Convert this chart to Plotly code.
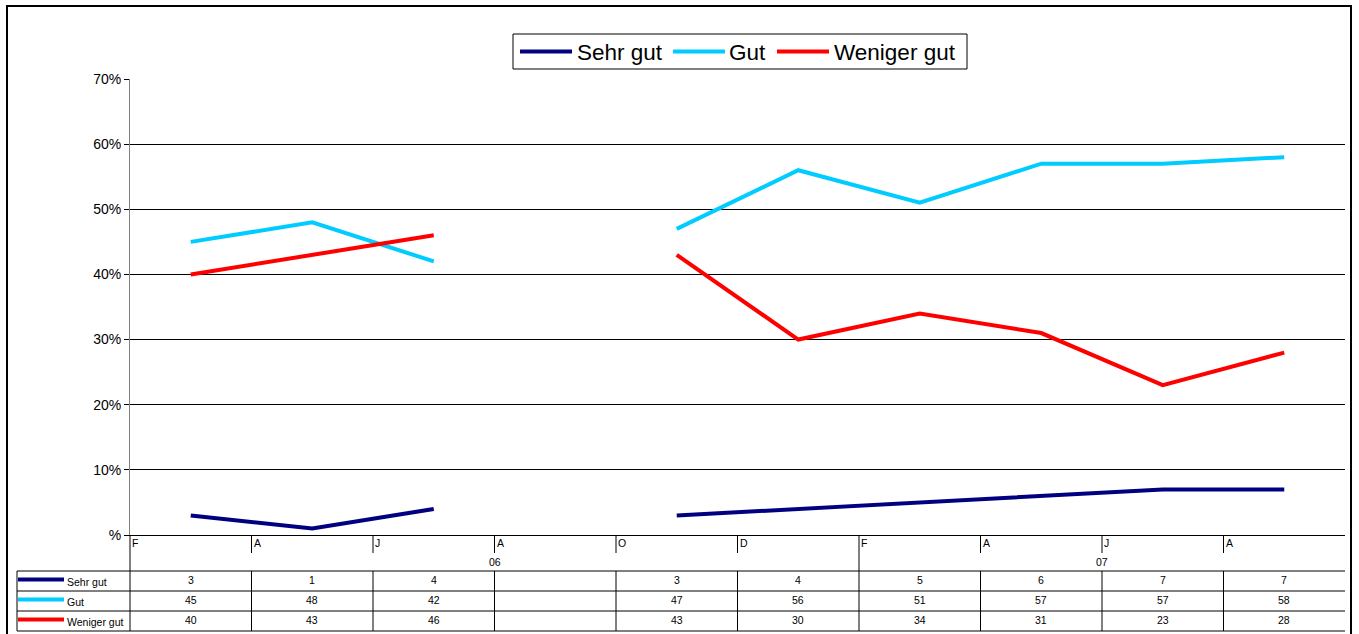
import plotly.graph_objects as go

months = ["F", "A", "J", "A", "O", "D", "F", "A", "J", "A"]
years = ["06", "07"]
year_spans = [(0, 5), (6, 9)]
series_names = ["Sehr gut", "Gut", "Weniger gut"]
sehr_gut = [3, 1, 4, None, 3, 4, 5, 6, 7, 7]
gut = [45, 48, 42, None, 47, 56, 51, 57, 57, 58]
weniger_gut = [40, 43, 46, None, 43, 30, 34, 31, 23, 28]
colors = ["#000080", "#00CCFF", "#FF0000"]
y_ticks = [0, 10, 20, 30, 40, 50, 60, 70]
y_ticktext = ["%", "10%", "20%", "30%", "40%", "50%", "60%", "70%"]

W, H = 1359, 634
L, R, T, B = 130, 1345, 79, 535
FONT = "Arial, Liberation Sans, sans-serif"

n = len(months)
xs = list(range(n))
series = [sehr_gut, gut, weniger_gut]

def px(x):
    return (x - L) / (R - L)

def py(y):
    return (B - y) / (B - T)

def cx(k):  # category boundary (left edge of category k) in paper coords
    return k / n

fig = go.Figure()
for name, vals, c in zip(series_names, series, colors):
    fig.add_trace(go.Scatter(x=xs, y=vals, mode="lines", name=name,
                             line=dict(color=c, width=4), connectgaps=False,
                             showlegend=False))

shapes = []
ann = []
def line(x0, y0, x1, y1, color="black", width=1):
    shapes.append(dict(type="line", xref="paper", yref="paper",
                       x0=x0, y0=y0, x1=x1, y1=y1,
                       line=dict(color=color, width=width)))

# outer frame
shapes.append(dict(type="rect", xref="paper", yref="paper",
                   x0=px(7), x1=px(1351), y0=py(645), y1=py(6),
                   line=dict(color="black", width=2)))

# legend box
shapes.append(dict(type="rect", xref="paper", yref="paper",
                   x0=px(513), x1=px(967), y0=py(69), y1=py(34),
                   line=dict(color="black", width=1), fillcolor="white"))
leg_pos = [(520, 575), (673, 727), (777, 832)]
for (lx, tx), name, c in zip(leg_pos, series_names, colors):
    line(px(lx), py(51.5), px(lx + 52), py(51.5), c, 4)
    ann.append(dict(x=px(tx), y=py(52), xref="paper", yref="paper", text=name,
                    showarrow=False, xanchor="left", yanchor="middle",
                    font=dict(family=FONT, size=22.5, color="black")))

# category axis area: ticks between months
for k in range(1, n):
    if k == year_spans[1][0]:
        line(cx(k), 0, cx(k), py(571))
    else:
        line(cx(k), 0, cx(k), py(553))
for k, m in enumerate(months):
    ann.append(dict(x=cx(k), y=py(543), xref="paper", yref="paper", text=m,
                    showarrow=False, xanchor="left", yanchor="middle", xshift=0,
                    font=dict(family=FONT, size=10.5, color="black")))
for yr, (a, b) in zip(years, year_spans):
    ann.append(dict(x=(cx(a) + cx(b + 1)) / 2, y=py(562), xref="paper", yref="paper",
                    text=yr, showarrow=False, xanchor="center", yanchor="middle",
                    font=dict(family=FONT, size=10.5, color="black")))

# data table
rows_y = [571, 591, 611, 631]
for yy in rows_y:
    line(px(17), py(yy), 1, py(yy))
line(px(17), py(571), px(17), py(631))
line(0, 0, 0, py(631))
for k in range(1, n):
    line(cx(k), py(571), cx(k), py(631))
for r, (name, vals, c) in enumerate(zip(series_names, series, colors)):
    ymid = (rows_y[r] + rows_y[r + 1]) / 2
    line(px(18), py(ymid - 1.5), px(64), py(ymid - 1.5), c, 4)
    ann.append(dict(x=px(65), y=py(ymid + 1), xref="paper", yref="paper", text=name,
                    showarrow=False, xanchor="left", yanchor="middle",
                    font=dict(family=FONT, size=10.5, color="black")))
    for k, v in enumerate(vals):
        if v is None:
            continue
        ann.append(dict(x=(cx(k) + cx(k + 1)) / 2, y=py(ymid - 1), xref="paper",
                        yref="paper", text=str(v), showarrow=False,
                        xanchor="center", yanchor="middle",
                        font=dict(family=FONT, size=10.5, color="black")))

fig.update_layout(
    width=W, height=H,
    margin=dict(l=L, r=W - R, t=T, b=H - B, pad=0),
    paper_bgcolor="white", plot_bgcolor="white",
    showlegend=False,
    shapes=shapes, annotations=ann,
    xaxis=dict(range=[-0.5, n - 0.5], showticklabels=False, showgrid=False,
               zeroline=False, showline=True, linecolor="black", linewidth=1,
               ticks="", fixedrange=True),
    yaxis=dict(range=[0, 70], tickvals=y_ticks, ticktext=y_ticktext,
               showgrid=True, gridcolor="black", gridwidth=1, zeroline=False,
               showline=True, linecolor="#808080", linewidth=1,
               ticks="outside", ticklen=5, tickcolor="black",
               tickfont=dict(family=FONT, size=14, color="black"),
               fixedrange=True),
)
fig.write_html("out.html", config={"displayModeBar": False},
               post_script="document.body.style.margin='0';document.body.style.overflow='hidden';")
